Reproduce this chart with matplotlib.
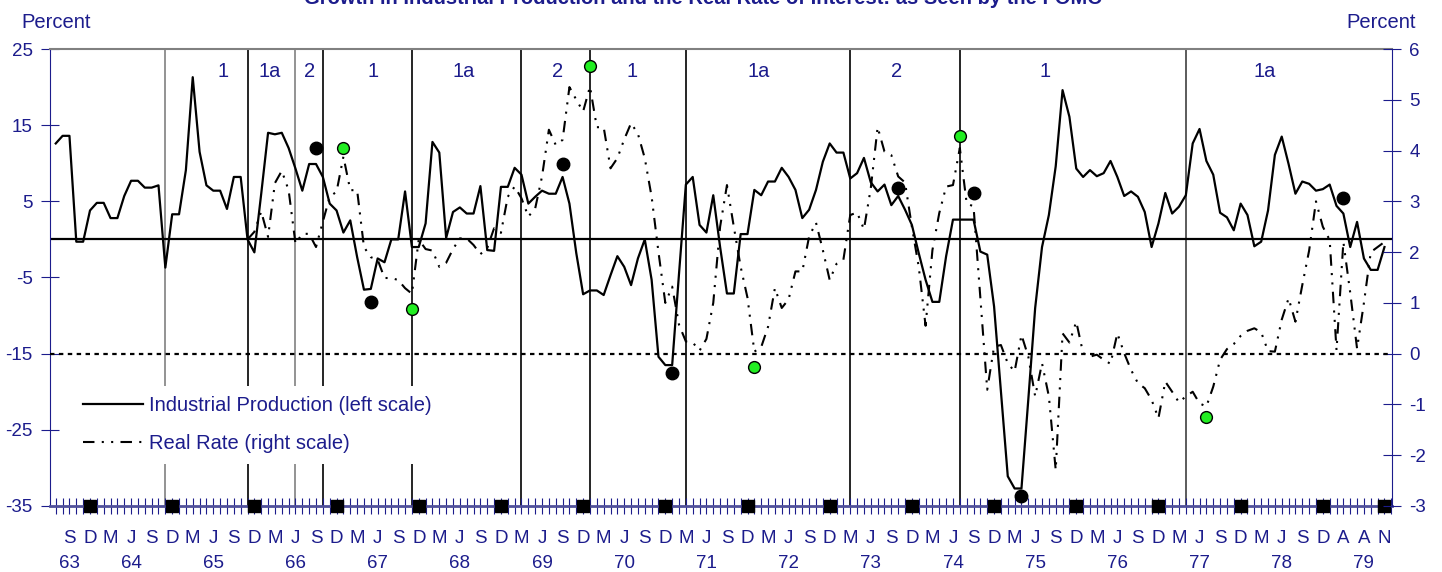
import matplotlib.pyplot as plt
import numpy as np

plt.rcParams['font.family'] = ['Liberation Sans', 'DejaVu Sans']
plt.rcParams['axes.unicode_minus'] = False

NAVY = '#1c1c8c'

# month index: 0 = Jun 1963
ip_start = 1
ip_growth = [
    12.6, 13.6, 13.6, -0.3, -0.3, 3.8, 4.8, 4.8, 2.8, 2.8,
    5.7, 7.7, 7.7, 6.8, 6.8, 7.1, -3.7, 3.3, 3.3, 9.1,
    21.3, 11.5, 7.1, 6.4, 6.4, 4.0, 8.2, 8.2, 0.0, -1.7,
    6.0, 14.0, 13.8, 14.0, 12.0, 9.3, 6.4, 9.9, 9.9, 8.2,
    4.7, 3.8, 0.9, 2.5, -2.3, -6.6, -6.5, -2.5, -3.0, 0.0,
    0.0, 6.3, -1.0, -1.0, 2.1, 12.8, 11.4, 0.2, 3.6, 4.2,
    3.4, 3.4, 7.0, -1.4, -1.5, 6.9, 6.9, 9.4, 8.5, 4.7,
    5.6, 6.4, 6.0, 6.0, 8.2, 4.7, -1.8, -7.2, -6.7, -6.7,
    -7.3, -4.7, -2.2, -3.6, -6.0, -2.5, 0.0, -5.3, -15.4, -16.5,
    -16.5, -4.5, 7.2, 8.2, 1.9, 0.9, 5.8, -1.0, -7.1, -7.1,
    0.7, 0.7, 6.5, 5.8, 7.6, 7.6, 9.4, 8.2, 6.5, 2.8,
    3.9, 6.5, 10.2, 12.6, 11.4, 11.4, 8.0, 8.7, 10.7, 7.5,
    6.3, 7.2, 4.5, 5.7, 3.9, 1.9, -1.8, -5.3, -8.2, -8.2,
    -2.2, 2.6, 2.6, 2.6, 2.6, -1.6, -2.0, -8.8, -20.0, -31.1,
    -32.7, -32.7, -21.0, -9.0, -1.0, 3.2, 9.6, 19.6, 16.1, 9.3,
    8.2, 9.1, 8.3, 8.7, 10.3, 8.2, 5.7, 6.3, 5.6, 3.6,
    -1.0, 2.1, 6.1, 3.4, 4.3, 5.8, 12.6, 14.5, 10.3, 8.5,
    3.5, 2.9, 1.2, 4.7, 3.2, -0.9, -0.3, 3.8, 11.1, 13.5,
    9.9, 6.0, 7.6, 7.3, 6.4, 6.6, 7.2, 4.4, 3.4, -1.0,
    2.3, -2.5, -4.0, -4.0, -1.0,
]

rate_start = 29
real_rate = [
    2.25, 2.4, 2.8, 2.3, 3.36, 3.6, 3.22, 2.17, 2.36, 2.36,
    2.1, 2.6, 3.09, 3.19, 3.88, 3.22, 3.22, 2.1, 1.9, 1.85,
    1.49, 1.49, 1.45, 1.29, 1.18, 2.25, 2.06, 2.03, 1.71, 1.79,
    2.06, 2.27, 2.27, 2.14, 1.96, 2.08, 2.47, 2.38, 3.09, 3.29,
    3.06, 2.70, 2.86, 3.49, 4.41, 4.11, 4.21, 5.25, 5.0, 4.77,
    5.26, 4.46, 4.46, 3.65, 3.85, 4.22, 4.54, 4.33, 3.85, 3.09,
    2.0, 1.0, 1.32, 0.57, 0.24, 0.22, 0.06, 0.29, 1.0, 2.5,
    3.32, 2.5, 1.71, 1.1, 0.04, 0.13, 0.53, 1.29, 0.9, 1.07,
    1.62, 1.62, 2.31, 2.58, 2.04, 1.45, 1.77, 1.85, 2.73, 2.78,
    2.45, 3.26, 4.46, 3.98, 3.91, 3.49, 3.37, 2.5, 1.71, 0.55,
    2.04, 2.77, 3.29, 3.32, 4.05, 2.96, 2.9, 1.1, -0.71, 0.14,
    0.17, -0.19, -0.35, 0.37, -0.06, -0.84, -0.19, -0.84, -2.29, 0.4,
    0.22, 0.63, 0.01, -0.06, -0.02, -0.12, -0.2, 0.4, 0.01, -0.32,
    -0.58, -0.68, -0.91, -1.27, -0.55, -0.75, -0.96, -0.84, -0.75, -0.98,
    -1.04, -0.65, -0.12, 0.09, 0.19, 0.35, 0.45, 0.5, 0.42, 0.05,
    0.04, 0.67, 1.09, 0.63, 1.35, 2.03, 3.0, 2.5, 2.24, 0.07,
    2.2, 1.2, 0.1, 1.0, 2.0, 2.1, 2.2,
]

# FOMC regime boundaries and labels
regime_breaks = [17, 29, 36, 40, 53, 69, 79, 93, 117, 133, 166]
break_colors = ['#808080', 'black', '#808080', 'black', 'black', 'black',
                'black', 'black', 'black', 'black', '#404040']
regime_labels = ['1', '1a', '2', '1', '1a', '2', '1', '1a', '2', '1', '1a']
regime_label_pos = [25.5, 32.3, 38.0, 47.3, 60.5, 74.2, 85.1, 103.6, 123.7, 145.5, 177.5]

# turning-point markers
ip_dot_months = [39, 47, 75, 91, 124, 135, 142, 189]
ip_dot_vals = [12.0, -8.2, 9.9, -17.6, 6.8, 6.1, -33.7, 5.45]
rate_dot_months = [43, 53, 79, 103, 133, 169]
rate_dot_vals = [4.05, 0.88, 5.67, -0.26, 4.29, -1.24]

# x axis labels
month_letters = ['S', 'D', 'M', 'J'] * 15 + ['S', 'D', 'A', 'A', 'N']
year_labels = ['63', '64', '65', '66', '67', '68', '69', '70', '71',
               '72', '73', '74', '75', '76', '77', '78', '79']
year_label_pos = [3] + list(range(12, 193, 12))
square_months = list(range(6, 187, 12)) + [195]

ip_x = np.arange(ip_start, ip_start + len(ip_growth))
rate_x = np.arange(rate_start, rate_start + len(real_rate))

fig = plt.figure(figsize=(14.42, 5.72), dpi=100)
ax = fig.add_axes([50 / 1442, 1 - 506 / 572, 1342 / 1442, 457 / 572])
ax2 = ax.twinx()

ax.set_xlim(0.16, 196.1)
ax.set_ylim(-35, 25)
ax2.set_ylim(-3, 6)

for m, c in zip(regime_breaks, break_colors):
    ax.axvline(m, color=c, lw=1.2, zorder=1)
for lbl, p in zip(regime_labels, regime_label_pos):
    ax.text(p, 22, lbl, color=NAVY, fontsize=14.5, ha='center', va='center')

ax.axhline(0, color='black', lw=1.6, zorder=2)
ax2.axhline(0, color='black', lw=1.6, ls=(0, (2, 2)), zorder=2)

ip_line, = ax.plot(ip_x, ip_growth, color='black', lw=1.6, zorder=3,
                   label='Industrial Production (left scale)')
rate_line, = ax2.plot(rate_x, real_rate, color='black', lw=1.5, zorder=3,
                      dashes=(5.5, 3.5, 1, 3.5, 1, 3.5),
                      label='Real Rate (right scale)')

ax.plot(ip_dot_months, ip_dot_vals, 'o', color='black', ms=9, zorder=4)
ax2.plot(rate_dot_months, rate_dot_vals, 'o', color='#22ee22', mec='black',
         mew=1, ms=8.5, zorder=4)

ax.plot(square_months, [-35] * len(square_months), 's', color='black',
        ms=9, clip_on=False, zorder=5)

# axes styling
ax.spines['top'].set_color('#808080')
ax.spines['top'].set_linewidth(1.5)
ax.spines['left'].set_color(NAVY)
ax.spines['bottom'].set_color('#50509a')
ax.spines['bottom'].set_linewidth(2)
ax.spines['right'].set_visible(False)
for s in ['top', 'left', 'bottom']:
    ax2.spines[s].set_visible(False)
ax2.spines['right'].set_color(NAVY)

ax.set_yticks(np.arange(-35, 26, 10))
ax2.set_yticks(np.arange(-3, 7, 1))
ax.tick_params(axis='y', direction='inout', length=13, color=NAVY,
               labelcolor=NAVY, labelsize=13.5, pad=6)
ax2.tick_params(axis='y', direction='inout', length=13, color=NAVY,
                labelcolor=NAVY, labelsize=13.5, pad=6)

ax.set_xticks(np.arange(1, 197))
ax.set_xticklabels([month_letters[(m - 3) // 3] if m % 3 == 0 else ''
                    for m in range(1, 197)])
ax.tick_params(axis='x', direction='inout', length=12, color=NAVY,
               labelcolor=NAVY, labelsize=13.5, pad=11.5)

for yl, p in zip(year_labels, year_label_pos):
    ax.text(p, -0.126, yl, color=NAVY, fontsize=13.5, ha='center',
            va='center', transform=ax.get_xaxis_transform())

fig.text(56 / 1442, 1 - 22 / 572, 'Percent', color=NAVY, fontsize=14.5,
         ha='center', va='center')
fig.text(1381 / 1442, 1 - 22 / 572, 'Percent', color=NAVY, fontsize=14.5,
         ha='center', va='center')
fig.text(703 / 1442, 1.0 + 1 / 572, 'Growth in Industrial Production and '
         'the Real Rate of Interest: as Seen by the FOMC', color=NAVY,
         fontsize=14.5, fontweight='bold', ha='center', va='center')

leg = ax2.legend(handles=[ip_line, rate_line], loc='upper left',
                 bbox_to_anchor=(0.0171, 0.262), borderaxespad=0,
                 frameon=True, facecolor='white', edgecolor='none',
                 framealpha=1, fontsize=14.5, handlelength=2.98,
                 handletextpad=0.3, labelspacing=0.95, borderpad=0.5)
for t in leg.get_texts():
    t.set_color(NAVY)

fig.savefig('out.png', dpi=100)
